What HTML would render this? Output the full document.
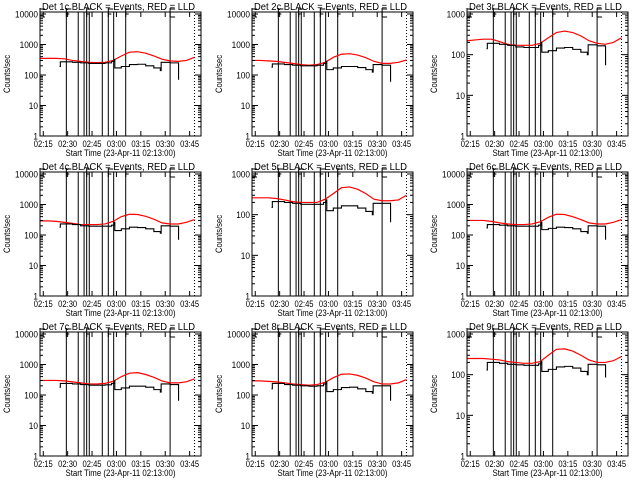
<!DOCTYPE html>
<html><head><meta charset="utf-8"><style>
html,body{margin:0;padding:0;background:#fff;}
svg{display:block;font-family:"Liberation Sans",sans-serif;}
</style></head><body>
<svg id="chart" width="640" height="480" viewBox="0 0 640 480" xmlns="http://www.w3.org/2000/svg">
<rect width="640" height="480" fill="#fff"/>
</svg>
<script>
// shared data
const detectors = ["1c","2c","3r","4c","5r","6c","7c","8r","9r"];
const yMaxDecade = [4,4,3,4,3,4,4,4,3];
const redTimes = [0,5,10,15,20,25,30,35,40,45,50,55,60,65,70,75,80,85,90,95];
const blackTimes = [12,12.5,16,20,25,30,35,40,44,45.5,46,50,55,60,65,70,74,74.5,80,85,85.2];
const red1 = [350,350,350,340,300,280,260,255,260,300,420,560,580,520,420,330,290,280,300,380];
const black1 = [190,270,270,260,250,240,240,250,280,320,170,190,220,225,200,170,140,260,250,250,70];
const red2 = [300,300,290,280,260,240,220,210,220,260,380,480,500,450,370,280,240,240,260,310];
const black2 = [180,230,230,220,210,200,200,210,240,280,150,170,190,190,175,150,125,220,210,210,60];
const red3 = [220,230,240,240,210,180,170,170,170,190,260,350,380,350,290,220,190,180,200,260];
const black3 = [140,190,190,180,170,155,150,150,170,200,115,125,145,150,135,115,100,175,165,160,55];
const red4 = [290,290,280,260,240,220,220,220,230,280,400,480,470,410,330,250,230,230,260,320];
const black4 = [180,230,230,220,200,195,195,195,210,260,140,160,180,175,160,130,115,200,195,195,70];
const red5 = [260,260,260,250,230,210,200,200,200,240,330,460,480,420,330,240,220,220,230,300];
const black5 = [150,210,210,200,190,180,180,180,200,230,125,145,165,165,145,120,100,190,190,190,65];
const red6 = [300,300,300,280,250,230,220,220,230,270,380,480,470,400,320,250,230,230,260,320];
const black6 = [170,220,220,210,200,195,195,195,210,260,150,165,180,175,160,130,115,200,195,195,70];
const red7 = [300,300,300,290,270,250,230,230,240,280,400,520,540,470,380,290,250,250,270,340];
const black7 = [180,240,240,230,220,210,210,215,240,290,150,170,195,195,180,150,125,230,220,220,65];
const red8 = [290,290,280,270,250,230,220,210,220,260,370,480,490,440,360,270,230,230,250,320];
const black8 = [160,240,240,220,210,200,195,200,230,270,130,150,175,180,160,130,115,200,200,200,65];
const red9 = [250,250,250,240,230,210,200,190,190,210,300,420,430,380,300,230,200,200,220,280];
const black9 = [130,200,200,190,180,175,170,170,185,210,120,135,155,160,145,120,100,180,175,175,85];
const redSeries = [red1,red2,red3,red4,red5,red6,red7,red8,red9];
const blackSeries = [black1,black2,black3,black4,black5,black6,black7,black8,black9];
const eventTimes = [16.2,23.5,27.1,28.7,30.3,38.3,42,45.3,52.7,80];
const flagTimes = [0,16.2,28.7,42,52.7,80];
const flagTypes = ["E","F","F","F","F","E"];
const xTickLabels = ["02:15","02:30","02:45","03:00","03:15","03:30","03:45"];
const xTickTimes = [2,17,32,47,62,77,92];

const NS="http://www.w3.org/2000/svg";
const svg=document.getElementById('chart');
function mk(tag,attrs,parent){const e=document.createElementNS(NS,tag);for(const k in attrs)e.setAttribute(k,attrs[k]);(parent||svg).appendChild(e);return e;}
const colL=[40,252,467], rowT=[12,172,332], W=161, H=124, TMAX=99;

detectors.forEach((det,i)=>{
  const L=colL[i%3], T=rowT[Math.floor(i/3)], B=T+H, R=L+W;
  const dmax=yMaxDecade[i];
  const dec=(H-2)/dmax;
  const xs=t=>L+t*W/TMAX;
  const ys=v=>B-Math.log10(Math.max(v,1))*dec;
  const g=mk('g',{});
  
  
  const ti=mk('text',{x:L+2,y:T-2,'font-size':'10',textLength:'153',lengthAdjust:'spacingAndGlyphs'},g);
  ti.textContent='Det '+det+' BLACK = Events, RED = LLD';
  
  
  eventTimes.forEach(t=>{
    const ln=mk('line',{x1:xs(t),x2:xs(t),y1:T,y2:B,stroke:'#000','stroke-width':1},g);
    
    
  });
  const dl=mk('line',{x1:xs(95),x2:xs(95),y1:T,y2:B,stroke:'#000','stroke-width':1,'stroke-dasharray':'1,2'},g);
  
  
  flagTimes.forEach((t,k)=>{
    const x=xs(t);
    let d='M'+x+' '+(T-4)+' V'+(T+5)+' M'+x+' '+(T-3)+' H'+(x+5);
    d+= flagTypes[k]==='E' ? ' M'+x+' '+(T+5)+' H'+(x+5) : ' M'+x+' '+(T+2)+' H'+(x+3);
    const f=mk('path',{d:d,stroke:'#000',fill:'none','stroke-width':1},g);
    
    
  });
  const rv=redSeries[i];
  const rp=mk('polyline',{points:redTimes.map((t,k)=>xs(t)+','+ys(rv[k])).join(' '),fill:'none',stroke:'#f00','stroke-width':1.2},g);
  
  
  const bv=blackSeries[i];
  let pts=[];
  blackTimes.forEach((t,k)=>{ if(k>0) pts.push(xs(t)+','+ys(bv[k-1])); pts.push(xs(t)+','+ys(bv[k])); });
  const bp=mk('polyline',{points:pts.join(' '),fill:'none',stroke:'#000','stroke-width':1.1},g);
  
  
  const bx=mk('rect',{x:L,y:T,width:W,height:H,fill:'none',stroke:'#000','stroke-width':1},g);
  
  
  for(let d=0; d<=dmax; d++){
    const y=ys(Math.pow(10,d));
    mk('line',{x1:L,x2:L+6,y1:y,y2:y,stroke:'#000'},g);
    mk('line',{x1:R,x2:R-6,y1:y,y2:y,stroke:'#000'},g);
    const s=String(Math.pow(10,d));
    const lb=mk('text',{x:L-2,y:y+3.5,'text-anchor':'end','font-size':'9',textLength:String(s.length*4.6),lengthAdjust:'spacingAndGlyphs'},g);
    lb.textContent=s;
    
    
    if(d<dmax) for(let m=2;m<10;m++){const ym=ys(m*Math.pow(10,d));
      mk('line',{x1:L,x2:L+3,y1:ym,y2:ym,stroke:'#000'},g);
      mk('line',{x1:R,x2:R-3,y1:ym,y2:ym,stroke:'#000'},g);}
  }
  xTickTimes.forEach((t,k)=>{
    const x=xs(t);
    mk('line',{x1:x,x2:x,y1:B,y2:B-5,stroke:'#000'},g);
    mk('line',{x1:x,x2:x,y1:T,y2:T+5,stroke:'#000'},g);
    const lb=mk('text',{x:x-9.5,y:B+11,'font-size':'9',textLength:'19',lengthAdjust:'spacingAndGlyphs'},g);
    lb.textContent=xTickLabels[k];
    
    
  });
  const xt=mk('text',{x:L+W/2-55,y:B+20,'font-size':'9.5',textLength:'110',lengthAdjust:'spacingAndGlyphs'},g);
  xt.textContent='Start Time (23-Apr-11 02:13:00)';
  
  
  const yt=mk('text',{x:-19,y:0,'font-size':'9',textLength:'38',lengthAdjust:'spacingAndGlyphs',transform:'translate('+(L-30)+','+(T+H/2)+') rotate(-90)'},g);
  yt.textContent='Counts/sec';
  
  
});
</script>
</body></html>
